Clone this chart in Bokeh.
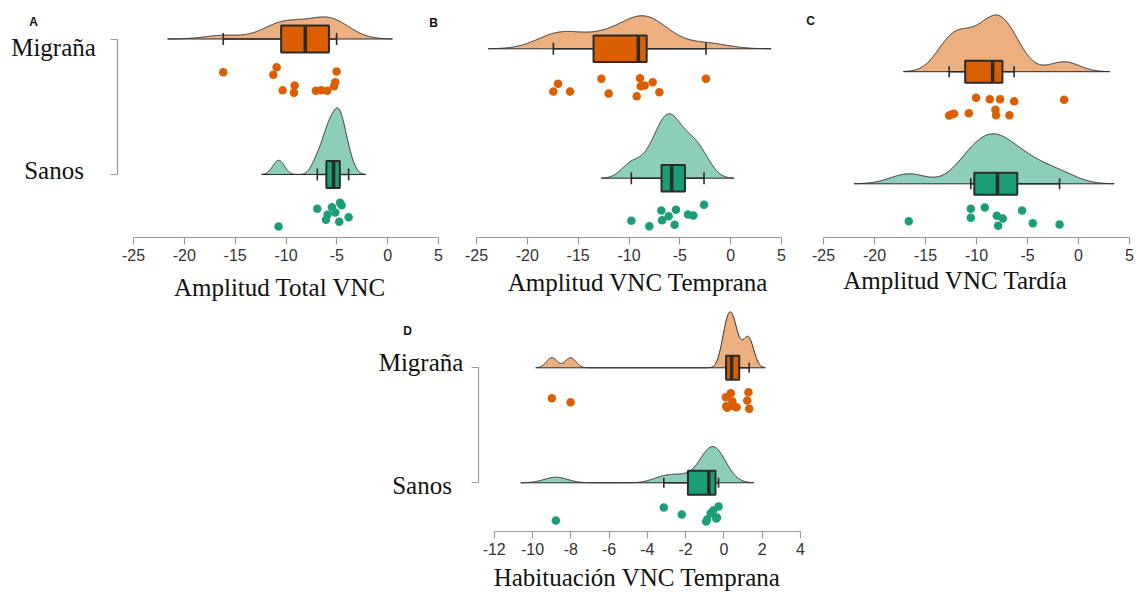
import numpy as np
from bokeh.plotting import figure
from bokeh.layouts import row, column, Spacer
from bokeh.models import Range1d, FixedTicker, Label, CustomJSTickFormatter
from bokeh.embed import file_html
from bokeh.resources import INLINE

# ---------------- data ----------------
groups = ["Migraña", "Sanos"]

amp_total_mig = [-16.17, -11.25, -10.92, -10.33, -9.22, -9.15, -7.06, -6.53, -5.94, -5.28, -5.15, -5.02]
amp_total_san = [-10.73, -6.92, -6.07, -5.91, -5.48, -5.15, -4.76, -4.69, -4.53, -3.84]

amp_temp_mig = [-17.44, -16.98, -15.80, -12.72, -12.00, -9.24, -8.92, -8.85, -8.46, -7.67, -7.01, -2.43]
amp_temp_san = [-9.77, -8.00, -6.82, -6.75, -6.10, -5.51, -5.38, -4.20, -3.67, -2.62]

amp_tard_mig = [-12.68, -12.45, -12.20, -10.75, -10.04, -8.70, -8.14, -8.08, -7.69, -6.77, -6.31, -1.41]
amp_tard_san = [-16.64, -10.56, -10.56, -9.19, -8.01, -7.88, -7.42, -5.53, -4.48, -1.86]

hab_temp_mig = [-8.99, -8.01, 0.10, 0.12, 0.17, 0.36, 0.44, 0.52, 0.66, 1.22, 1.28, 1.32]
hab_temp_san = [-8.78, -3.14, -2.20, -0.93, -0.88, -0.70, -0.56, -0.40, -0.36, -0.28]

ticks_amp = [-25, -20, -15, -10, -5, 0, 5]
ticks_hab = [-12, -10, -8, -6, -4, -2, 0, 2, 4]

titles = ["Amplitud Total VNC", "Amplitud VNC Temprana", "Amplitud VNC Tardía", "Habituación VNC Temprana"]
letters = ["A", "B", "C", "D"]

# ---------------- layout (page pixels) ----------------
# vertical rain offsets of the points below each cloud's baseline
jit_a = ([33.2, 35.8, 28.2, 51.2, 53.8, 46.5, 51.8, 51.2, 51.8, 47.2, 43.2, 32.5],
         [52.0, 34.3, 45.3, 40.3, 32.7, 38.0, 47.3, 28.3, 30.7, 42.7])
jit_b = ([42.7, 35.0, 42.7, 30.0, 44.7, 47.4, 29.4, 37.4, 36.7, 33.4, 43.4, 30.0],
         [42.6, 48.0, 32.3, 42.0, 38.0, 46.6, 31.6, 36.3, 37.3, 26.6])
jit_c = ([43.8, 42.8, 42.1, 41.5, 26.1, 27.5, 38.1, 43.5, 27.5, 43.5, 29.5, 28.1],
         [37.4, 25.0, 34.0, 23.7, 32.0, 42.0, 34.7, 26.7, 39.4, 40.7])
jit_d = ([30.4, 34.4, 29.4, 38.4, 40.0, 25.4, 33.7, 38.4, 39.4, 32.7, 24.4, 41.0],
         [37.7, 24.7, 31.7, 38.7, 36.7, 30.7, 27.7, 35.7, 34.7, 23.7])

ORANGE, ORANGE_LIGHT = "#D95F02", "#ECAF80"
GREEN, GREEN_LIGHT = "#1B9E77", "#8DCEBB"
EDGE = "#2b2b2b"
AXIS_GREY = "#9a9a9a"
SERIF = "Liberation Serif"
SANS = "Liberation Sans"


def kde_nrd0(vals, n_grid=512):
    v = np.asarray(vals, float)
    n = v.size
    q1, q3 = np.percentile(v, [25, 75])
    bw = 0.9 * min(v.std(ddof=1), (q3 - q1) / 1.34) * n ** -0.2
    grid = np.linspace(v.min() - 3 * bw, v.max() + 3 * bw, n_grid)
    dens = np.exp(-0.5 * ((grid[:, None] - v[None, :]) / bw) ** 2).sum(1)
    dens /= n * bw * np.sqrt(2 * np.pi)
    return grid, dens


def box_stats(vals):
    v = np.asarray(vals, float)
    q1, med, q3 = np.percentile(v, [25, 50, 75])
    iqr = q3 - q1
    lo = v[v >= q1 - 1.5 * iqr].min()
    hi = v[v <= q3 + 1.5 * iqr].max()
    return lo, q1, med, q3, hi


def style_axis(ax):
    ax.axis_line_color = AXIS_GREY
    ax.axis_line_width = 1.2
    ax.major_tick_line_color = AXIS_GREY
    ax.major_tick_line_width = 1.2
    ax.major_tick_out = 7
    ax.major_tick_in = 0
    ax.minor_tick_line_color = None


def raincloud(spec, series, jitters):
    x0, width = spec["x0"], spec["width"]
    (pa, va), (pb, vb) = spec["calib"]
    ppu = (pb - pa) / (vb - va)

    def to_x(px):
        return va + (px - pa) / ppu

    y0, height = spec["y0"], spec["height"]
    # the frame covers the whole canvas; axes sit at fixed places inside it
    p = figure(width=width, height=height,
               x_range=Range1d(to_x(x0), to_x(x0 + width)),
               y_range=Range1d(y0 + height, y0),
               output_backend="svg", toolbar_location=None,
               min_border_left=0, min_border_right=0,
               min_border_top=0, min_border_bottom=0)
    p.outline_line_color = None
    p.grid.visible = False
    p.background_fill_color = "white"
    p.border_fill_color = "white"

    bases = spec["bases"]
    dens = [kde_nrd0(s) for s in series]
    scale = spec["peak_px"] / max(d.max() for _, d in dens)
    pal = [(ORANGE, ORANGE_LIGHT), (GREEN, GREEN_LIGHT)]
    h, c = spec["box_half"], spec["cap_half"]

    for vals, jit, base, (g, d), (dark, light) in zip(series, jitters, bases, dens, pal):
        xs = np.concatenate([[g[0]], g, [g[-1]]])
        ys = np.concatenate([[base], base - d * scale, [base]])
        p.patch(xs, ys, fill_color=light, line_color=EDGE, line_width=1)

        lo, q1, med, q3, hi = box_stats(vals)
        p.segment(x0=[lo, q3], y0=[base, base], x1=[q1, hi], y1=[base, base],
                  line_color=EDGE, line_width=1.6)
        p.segment(x0=[lo, hi], y0=[base - c, base - c], x1=[lo, hi], y1=[base + c, base + c],
                  line_color=EDGE, line_width=1.6)
        p.quad(left=[q1], right=[q3], top=[base - h], bottom=[base + h],
               fill_color=dark, line_color=EDGE, line_width=2)
        p.segment(x0=[med], y0=[base - h], x1=[med], y1=[base + h],
                  line_color=EDGE, line_width=3.5)

        p.scatter(x=vals, y=base + np.asarray(jit), size=8.5,
                  fill_color=dark, line_color=None)

    ticks = spec["ticks"]
    xa = p.xaxis[0]
    xa.fixed_location = spec["axis_row"]
    xa.ticker = FixedTicker(ticks=ticks)
    xa.bounds = (ticks[0], ticks[-1])
    xa.formatter = CustomJSTickFormatter(code="return tick.toString()")
    style_axis(xa)
    xa.major_label_text_font = SANS
    xa.major_label_text_font_size = "16px"
    xa.major_label_text_color = "#333333"
    xa.major_label_standoff = 4

    ya = p.yaxis[0]
    if spec["show_groups"]:
        ya.fixed_location = to_x(spec["group_axis_px"])
        ya.ticker = FixedTicker(ticks=list(bases))
        ya.bounds = (min(bases), max(bases))
        ya.formatter = CustomJSTickFormatter(code="return ''")
        style_axis(ya)
        for name, (cx, cy) in zip(groups, spec["group_labels"]):
            p.add_layout(Label(x=to_x(cx), y=cy, text=name, text_font=SERIF,
                               text_font_size="25px", text_color="#111111",
                               text_align="center", text_baseline="middle"))
    else:
        ya.visible = False

    tx, ty = spec["title_pos"]
    p.add_layout(Label(x=to_x(tx), y=ty, text=spec["title"], text_font=SERIF,
                       text_font_size="25px", text_color="#111111",
                       text_align="center", text_baseline="middle"))
    for letter, (lx, ly) in spec["letters"]:
        p.add_layout(Label(x=to_x(lx), y=ly, text=letter, text_font=SANS,
                           text_font_style="bold", text_font_size="12px",
                           text_color="#111111", text_align="center",
                           text_baseline="middle"))
    return p


TOP = dict(y0=0, height=305, axis_row=237)
BOT = dict(y0=305, height=287, axis_row=531)

spec_a = dict(TOP, x0=0, width=452, calib=((133, -25), (438, 5)),
              bases=(38.5, 174.0), box_half=13.5, cap_half=6, peak_px=66.6,
              ticks=ticks_amp, show_groups=True, group_axis_px=117,
              group_labels=((53, 47), (53.5, 170)),
              title=titles[0], title_pos=(279.5, 287),
              letters=[(letters[0], (33, 21)), (letters[1], (433, 22))])
spec_b = dict(TOP, x0=452, width=343, calib=((476, -25), (781, 5)),
              bases=(48.3, 177.7), box_half=13.3, cap_half=6, peak_px=64.4,
              ticks=ticks_amp, show_groups=False,
              title=titles[1], title_pos=(637.5, 282), letters=[])
spec_c = dict(TOP, x0=795, width=344, calib=((823, -25), (1129, 5)),
              bases=(71.2, 183.3), box_half=11, cap_half=5.5, peak_px=56.7,
              ticks=ticks_amp, show_groups=False,
              title=titles[2], title_pos=(955, 280), letters=[(letters[2], (810, 20))])
spec_d = dict(BOT, x0=360, width=463, calib=((493.7, -12), (800, 4)),
              bases=(367.3, 482.3), box_half=12, cap_half=5, peak_px=56,
              ticks=ticks_hab, show_groups=True, group_axis_px=478,
              group_labels=((420.5, 362), (421.5, 485)),
              title=titles[3], title_pos=(636.7, 577), letters=[(letters[3], (407, 330))])

pa = raincloud(spec_a, (amp_total_mig, amp_total_san), jit_a)
pb = raincloud(spec_b, (amp_temp_mig, amp_temp_san), jit_b)
pc = raincloud(spec_c, (amp_tard_mig, amp_tard_san), jit_c)
pd = raincloud(spec_d, (hab_temp_mig, hab_temp_san), jit_d)

layout = column(row(pa, pb, pc), row(Spacer(width=360, height=287), pd))

open("out.html", "w").write(file_html(layout, INLINE))
